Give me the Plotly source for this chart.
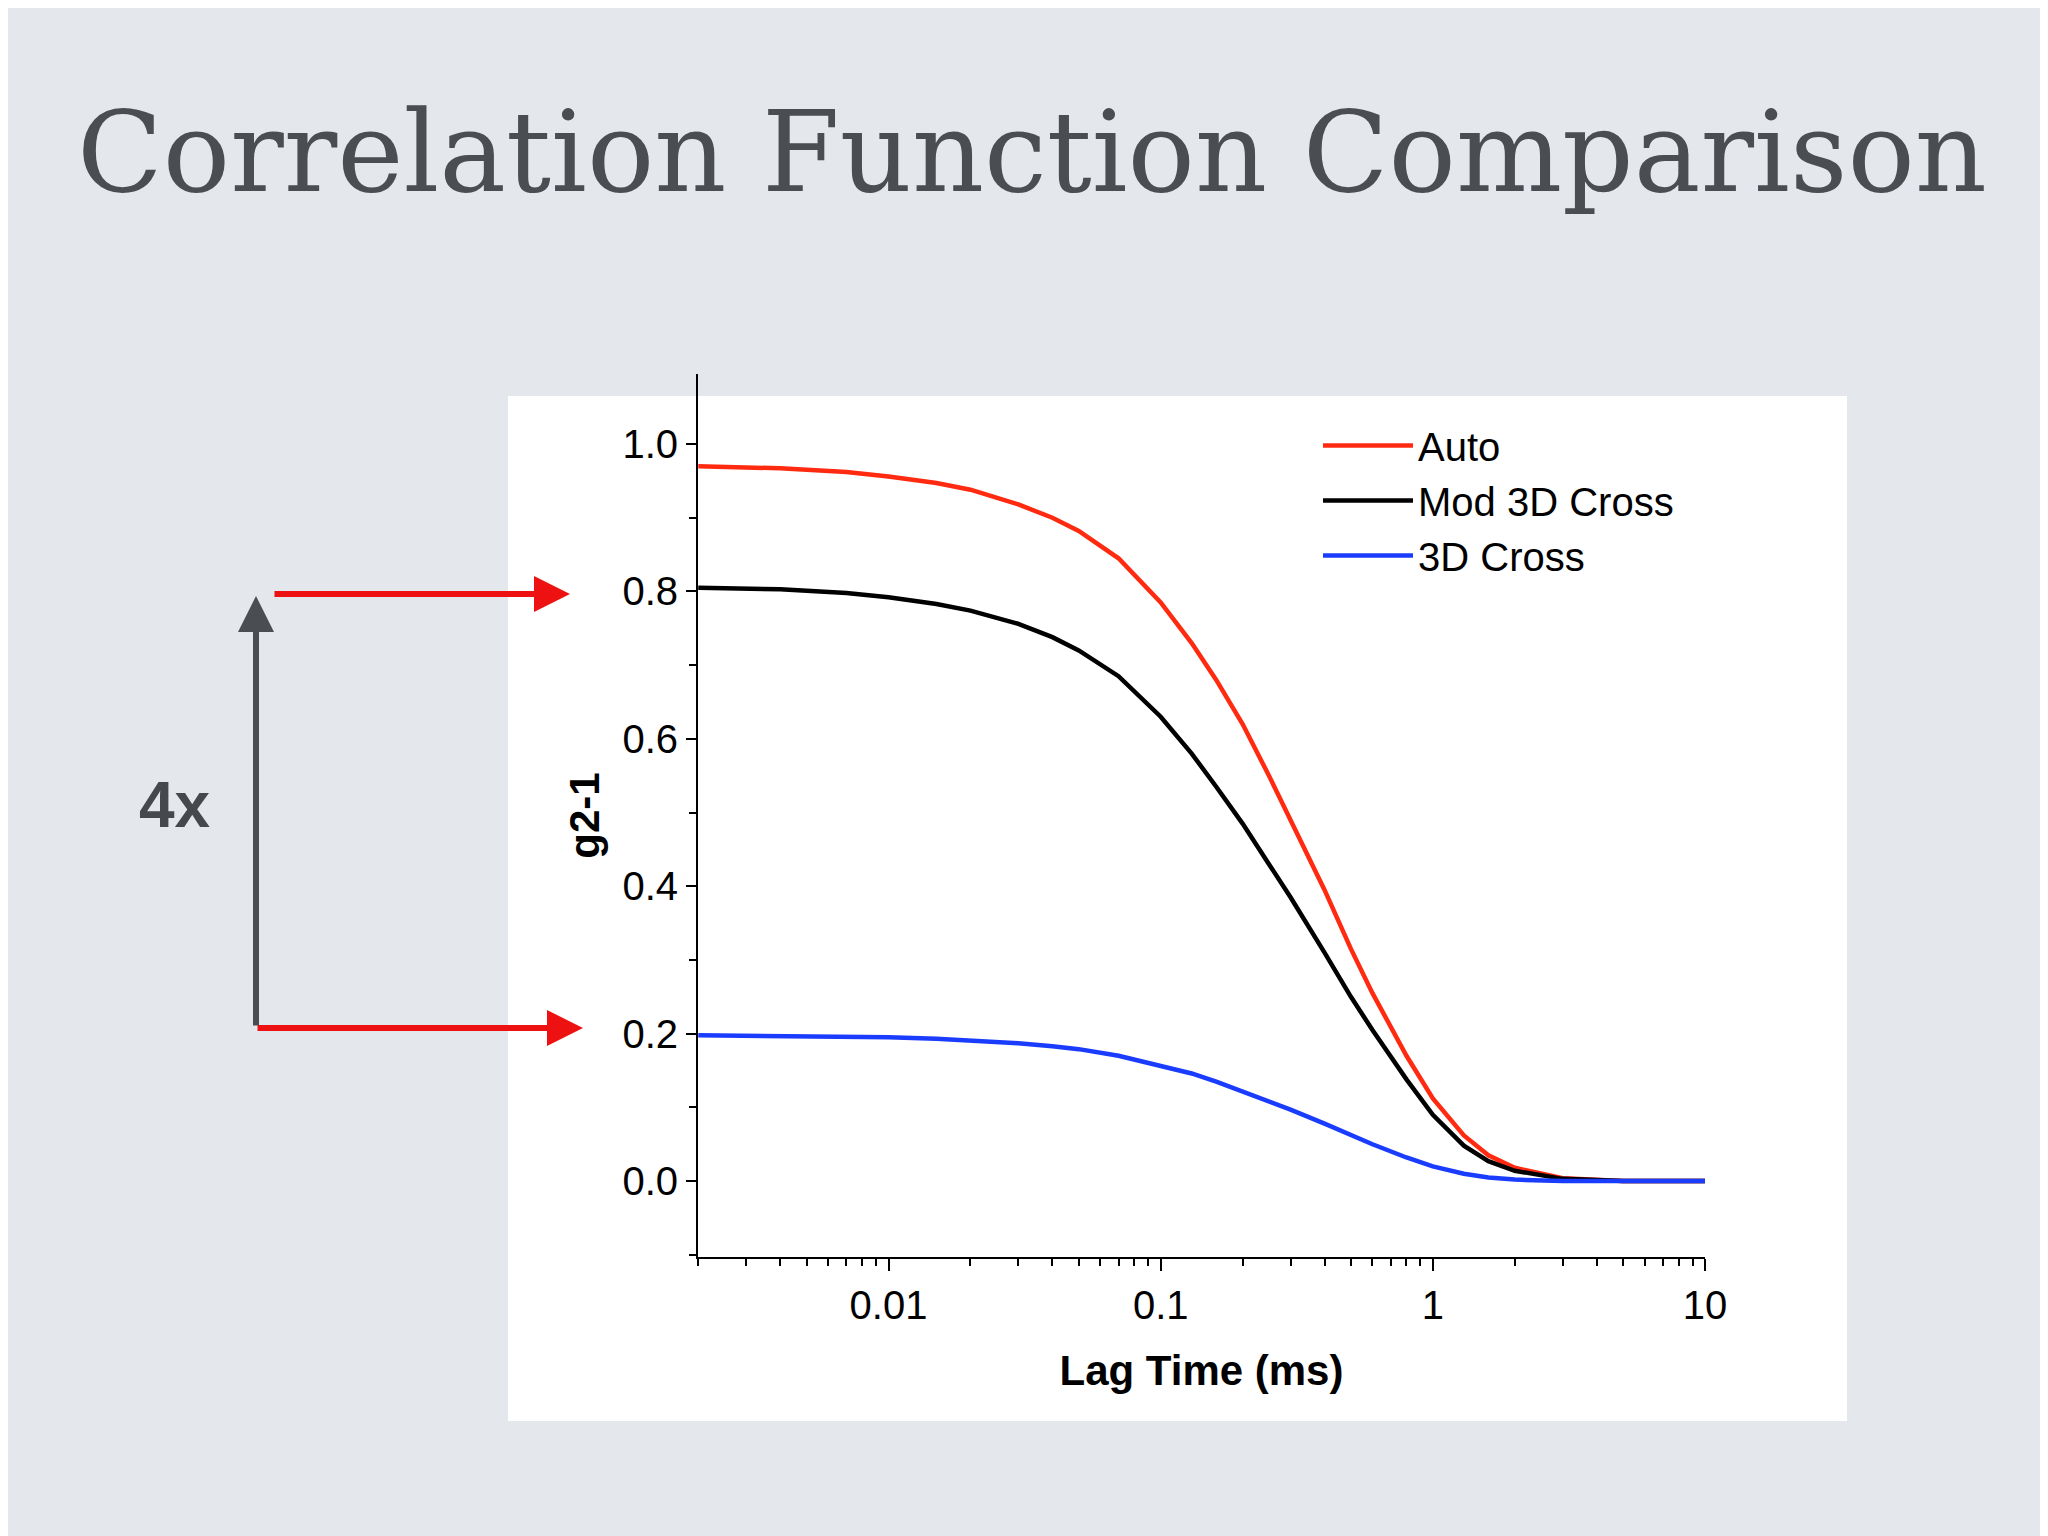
import plotly.graph_objects as go

lag = [0.002, 0.004, 0.007, 0.01, 0.015, 0.02, 0.03, 0.04, 0.05, 0.07, 0.1, 0.13, 0.16, 0.2, 0.25, 0.3,
       0.4, 0.5, 0.6, 0.8, 1, 1.3, 1.6, 2, 3, 5, 10]
auto = [0.970, 0.967, 0.962, 0.956, 0.947, 0.938, 0.918, 0.900, 0.882, 0.845, 0.785, 0.730, 0.680, 0.620,
        0.550, 0.490, 0.395, 0.315, 0.255, 0.170, 0.112, 0.062, 0.035, 0.018, 0.004, 0.0, 0.0]
mod3d = [0.805, 0.803, 0.798, 0.792, 0.783, 0.774, 0.756, 0.738, 0.720, 0.685, 0.630, 0.580, 0.535, 0.485,
         0.430, 0.385, 0.310, 0.250, 0.205, 0.138, 0.090, 0.048, 0.027, 0.014, 0.003, 0.0, 0.0]
cross3d = [0.198, 0.197, 0.196, 0.195, 0.193, 0.191, 0.187, 0.183, 0.179, 0.170, 0.157, 0.146, 0.135, 0.122,
           0.108, 0.097, 0.078, 0.062, 0.050, 0.032, 0.020, 0.010, 0.005, 0.002, 0.0, 0.0, 0.0]

L, R, T, B = 690, 351, 366, 287
PW, PH = 2048 - L - R, 1536 - T - B
def px(x): return (x - L) / PW
def py(y): return (1536 - B - y) / PH

fig = go.Figure()
for name, ys, c in [("Auto", auto, "#ff2a10"), ("Mod 3D Cross", mod3d, "black"), ("3D Cross", cross3d, "#1a3cff")]:
    fig.add_trace(go.Scatter(x=lag, y=ys, name=name, mode="lines",
                             line=dict(color=c, width=4.5, shape="linear")))

fig.add_shape(type="rect", xref="paper", yref="paper", x0=px(500), x1=px(1839), y0=py(1413), y1=py(388),
              fillcolor="white", line_width=0, layer="below")

axfont = dict(family="Liberation Sans", size=40, color="black")
fig.update_xaxes(type="log", range=[-2.7, 1], showline=True, linecolor="black", linewidth=2,
                 ticks="outside", ticklen=12, tickwidth=2, tickcolor="black",
                 tickvals=[0.01, 0.1, 1, 10], ticktext=["0.01", "0.1", "1", "10"],
                 minor=dict(ticks="outside", ticklen=7, tickwidth=2, tickcolor="black",
                            tickvals=[m * 10 ** e for e in (-3, -2, -1, 0) for m in range(2, 10)]),
                 showgrid=False, zeroline=False, tickfont=axfont,
                 title=dict(text="<b>Lag Time (ms)</b>", font=dict(family="Liberation Sans", size=42, color="black"), standoff=30))
fig.update_yaxes(range=[-0.103, 1.095], showline=True, linecolor="black", linewidth=2,
                 ticks="outside", ticklen=10, tickwidth=2, tickcolor="black",
                 tickvals=[0, 0.2, 0.4, 0.6, 0.8, 1.0], ticktext=["0.0", "0.2", "0.4", "0.6", "0.8", "1.0"],
                 minor=dict(ticks="outside", ticklen=7, tickwidth=2, tickcolor="black", dtick=0.1),
                 showgrid=False, zeroline=False, tickfont=axfont,
                 title=dict(text="<b>g2-1</b>", font=dict(family="Liberation Sans", size=42, color="black"), standoff=10))

fig.add_annotation(xref="paper", yref="paper", x=px(562), y=py(586), ax=265 - 562, ay=0,
                   showarrow=True, arrowhead=2, arrowsize=1.2, arrowwidth=6, arrowcolor="#ee1111", text="")
fig.add_annotation(xref="paper", yref="paper", x=px(575), y=py(1020), ax=248 - 575, ay=0,
                   showarrow=True, arrowhead=2, arrowsize=1.2, arrowwidth=6, arrowcolor="#ee1111", text="")
fig.add_annotation(xref="paper", yref="paper", x=px(248), y=py(588), ax=0, ay=1019 - 588,
                   showarrow=True, arrowhead=2, arrowsize=1.2, arrowwidth=6, arrowcolor="#4a4d52", text="")
fig.add_annotation(xref="paper", yref="paper", x=px(167), y=py(797), xanchor="center", yanchor="middle",
                   showarrow=False, text="<b>4x</b>", font=dict(family="Liberation Sans", size=64, color="#45484d"))
fig.add_annotation(xref="paper", yref="paper", x=px(1024), xanchor="center", y=py(144), yanchor="middle",
                   showarrow=False, text="Correlation Function Comparison",
                   font=dict(family="DejaVu Serif", size=112, color="#4a4d52"))

fig.update_layout(width=2048, height=1536, margin=dict(l=L, r=R, t=T, b=B),
                  paper_bgcolor="#e4e7eb", plot_bgcolor="rgba(0,0,0,0)",
                  legend=dict(x=px(1310), y=py(405), xanchor="left", yanchor="top", bgcolor="rgba(0,0,0,0)",
                              font=dict(family="Liberation Sans", size=40, color="black"), itemwidth=90, tracegroupgap=0))
fig.write_html("out.html")
